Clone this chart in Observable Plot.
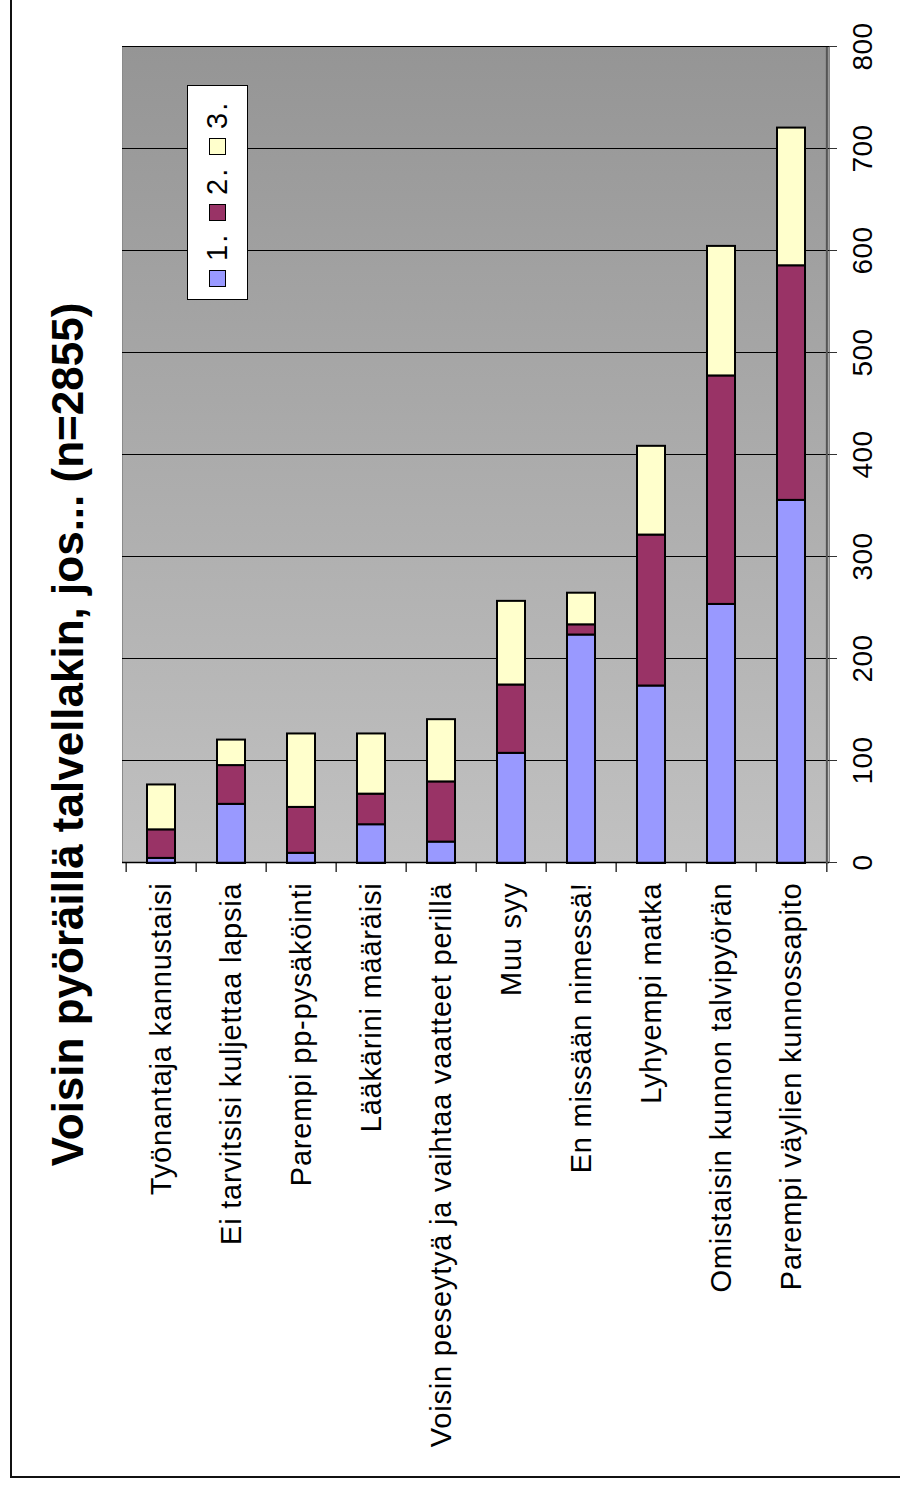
<!DOCTYPE html>
<html lang="fi">
<head>
<meta charset="utf-8">
<script src="https://cdn.jsdelivr.net/npm/d3@7"></script>
<script src="https://cdn.jsdelivr.net/npm/@observablehq/plot@0.6"></script>
<style>
  html, body { margin: 0; padding: 0; background: #fff; }
  body { font-family: "Liberation Sans", Arial, sans-serif; }
  #page { position: relative; width: 900px; height: 1490px; overflow: hidden; background: #fff; }
  /* the whole chart is laid out sideways and turned a quarter turn counter-clockwise */
  #sheet {
    position: absolute; left: 0; top: 0; width: 1490px; height: 900px;
    transform-origin: 0 0; transform: translate(0, 1490px) rotate(-90deg);
  }
  #edge {
    position: absolute; left: 12px; top: 10px; width: 1500px; height: 920px;
    border-left: 2px solid #111; border-top: 2px solid #111; box-sizing: border-box;
  }
  #title {
    position: absolute; left: 21px; width: 1469px; top: 46px;
    text-align: center; font: bold 44px/44px "Liberation Sans", Arial, sans-serif; color: #000;
  }
  #chart { position: absolute; left: 0; top: 0; }
  #chart svg text { font-family: "Liberation Sans", Arial, sans-serif; }
  #chart svg [aria-label="y-axis tick label"] text { letter-spacing: 0.8px; }
  #chart svg [aria-label="x-axis tick label"] text { letter-spacing: 0.5px; }
  #legend {
    position: absolute; left: 1190px; top: 187px; width: 215px; height: 61px;
    box-sizing: border-box; border: 1px solid #000; background: #fff;
    display: flex; align-items: center; padding-left: 12px;
    font: 29px "Liberation Sans", Arial, sans-serif; color: #000; letter-spacing: 2px;
  }
  #legend .item { display: flex; align-items: center; width: 66px; }
  #legend .sw { width: 17px; height: 17px; border: 1px solid #000; box-sizing: border-box; margin-right: 9px; }
</style>
</head>
<body>
<div id="page">
  <div id="sheet">
    <div id="edge"></div>
    <div id="chart"></div>
    <div id="title">Voisin pyöräillä talvellakin, jos... (n=2855)</div>
    <div id="legend"></div>
  </div>
</div>
<script>
// Reasons, in the order they are listed
const categories = [
  "Työnantaja kannustaisi",
  "Ei tarvitsisi kuljettaa lapsia",
  "Parempi pp-pysäköinti",
  "Lääkärini määräisi",
  "Voisin peseytyä ja vaihtaa vaatteet perillä",
  "Muu syy",
  "En missään nimessä!",
  "Lyhyempi matka",
  "Omistaisin kunnon talvipyörän",
  "Parempi väylien kunnossapito"
];
// Number of answers ranking the reason 1st, 2nd and 3rd
const seriesNames = ["1.", "2.", "3."];
const first  = [5, 58, 10, 38, 21, 108, 224, 174, 254, 356];
const second = [28, 38, 45, 30, 59, 67, 10, 148, 224, 230];
const third  = [44, 25, 72, 59, 61, 82, 31, 87, 127, 135];
const seriesColors = ["#9999ff", "#993366", "#ffffcc"];
const valueTicks = [0, 100, 200, 300, 400, 500, 600, 700, 800];

const seriesValues = [first, second, third];
const rows = seriesNames.flatMap((s, si) =>
  categories.map((c, ci) => ({category: c, series: s, value: seriesValues[si][ci]}))
);

const W = 1490, H = 900;
const M = {top: 122, right: 47, bottom: 71, left: 627};
const step = (H - M.top - M.bottom) / categories.length;
const lastCat = categories[categories.length - 1];

const chart = Plot.plot({
  width: W,
  height: H,
  marginTop: M.top,
  marginRight: M.right,
  marginBottom: M.bottom,
  marginLeft: M.left,
  style: {background: "transparent", color: "#000", overflow: "visible"},
  x: {domain: [0, 800]},
  y: {domain: categories, paddingInner: 0.6, paddingOuter: 0.3},
  color: {domain: seriesNames, range: seriesColors},
  marks: [
    Plot.frame({fill: "url(#plotBg)", stroke: "#8a8a8a", strokeWidth: 1}),
    Plot.ruleX(valueTicks.filter(v => v > 0), {stroke: "#000", strokeWidth: 1}),
    Plot.barX(rows, {x: "value", y: "category", fill: "series", stroke: "#000", strokeWidth: 2}),
    // category axis line and ticks between the bands
    Plot.ruleX([0], {stroke: "#000", strokeWidth: 1.5}),
    Plot.ruleY(categories, {y: d => d, dy: -step / 2, x1: 0, x2: 0, insetLeft: -9, stroke: "#000", strokeWidth: 1.2}),
    Plot.ruleY([lastCat], {y: d => d, dy: step / 2, x1: 0, x2: 0, insetLeft: -9, stroke: "#000", strokeWidth: 1.2}),
    // value axis line
    Plot.ruleY([lastCat], {y: d => d, dy: step / 2, stroke: "#555", strokeWidth: 2}),
    Plot.axisX(valueTicks, {anchor: "bottom", tickSize: 8, tickPadding: 15, fontSize: 28, stroke: "#333", label: null}),
    Plot.axisY({anchor: "left", tickSize: 0, tickPadding: 20, fontSize: 29, label: null})
  ]
});

// background gradient of the plotting area: lighter at zero, darker towards 800
const defs = d3.select(chart).insert("defs", ":first-child");
const grad = defs.append("linearGradient")
  .attr("id", "plotBg").attr("x1", 0).attr("y1", 0).attr("x2", 1).attr("y2", 0);
grad.append("stop").attr("offset", 0).attr("stop-color", "#c1c1c1");
grad.append("stop").attr("offset", 1).attr("stop-color", "#959595");

document.getElementById("chart").appendChild(chart);

// legend
const legend = d3.select("#legend");
seriesNames.forEach((s, i) => {
  const item = legend.append("div").attr("class", "item");
  item.append("div").attr("class", "sw").style("background", seriesColors[i]);
  item.append("span").text(s);
});
</script>
</body>
</html>
